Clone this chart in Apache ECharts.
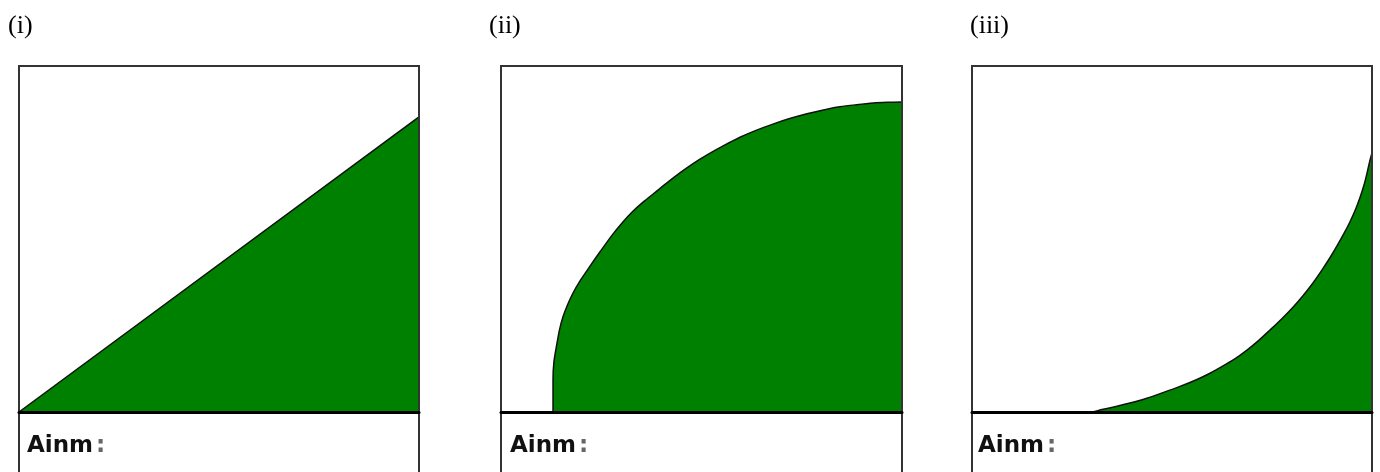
<!DOCTYPE html>
<html>
<head>
<meta charset="utf-8">
<script src="https://cdn.jsdelivr.net/npm/echarts@6/dist/echarts.min.js"></script>
<style>
html,body{margin:0;padding:0;background:#fff;}
#chart{width:1380px;height:472px;}
</style>
</head>
<body>
<div id="chart"></div>
<script>
// Panel titles and the answer-field label
const panelLabels = ['(i)', '(ii)', '(iii)'];
const fieldLabel = 'Ainm';
// Curves: [x (0-100 across box), y (0-100 from baseline to box top)]
const curveI = [[0, 0], [100, 85.3]];
const curveII = [
  [12.97, 0], [12.97, 9.2], [13.2, 14.5], [13.97, 19.9], [14.6, 23.8], [15.46, 27.5],
  [16.6, 31.0], [17.96, 34.4], [19.6, 37.7], [21.4, 40.8], [23.0, 43.5], [24.7, 46.3],
  [27.9, 51.4], [30.3, 54.8], [32.9, 58.0], [35.8, 61.0], [38.9, 63.9], [41.7, 66.5],
  [44.6, 69.1], [47.9, 71.8], [51.4, 74.3], [55.4, 76.9], [59.6, 79.4], [63.6, 81.4],
  [67.8, 83.2], [72.0, 84.8], [76.3, 86.2], [80.4, 87.3], [84.5, 88.2], [88.6, 88.8],
  [92.8, 89.3], [96.4, 89.5], [100, 89.6]
];
const curveIII = [
  [0, 0], [29.5, 0], [32.5, 0.7], [36, 1.6], [39.5, 2.6], [43.5, 3.9], [47.75, 5.6],
  [52, 7.4], [56.25, 9.4], [59.5, 11.2], [62, 12.8], [65.5, 15.2], [68.75, 17.9],
  [71.7, 20.7], [74.5, 23.7], [77.4, 26.9], [80.25, 30.3], [82.8, 33.7], [85.25, 37.3],
  [87.6, 41.2], [89.6, 44.8], [91.25, 48.0], [93.0, 51.6], [94.5, 55.0], [95.9, 58.6],
  [97, 62.0], [98.0, 65.6], [98.75, 69.0], [99.5, 72.8], [100, 74.9]
];

const curves = [curveI, curveII, curveIII];
const gridLefts = [19, 501, 972];
const gridWidths = [400, 401, 400];
const labelXs = [8, 489, 970];
const fieldXs = [27, 510, 978];

const chart = echarts.init(document.getElementById('chart'), null, {renderer: 'canvas'});

const grids = [], xAxes = [], yAxes = [], series = [], titles = [];
for (let i = 0; i < 3; i++) {
  grids.push({
    left: gridLefts[i], top: 66, width: gridWidths[i], height: 449.8,
    outerBoundsMode: 'none', containLabel: false,
    show: true, borderColor: '#333', borderWidth: 2,
    backgroundColor: 'transparent', z: 10
  });
  xAxes.push({
    type: 'value', gridIndex: i, min: 0, max: 100, z: 10,
    axisLine: {show: true, onZero: true, lineStyle: {color: '#000', width: 3}},
    axisTick: {show: false}, axisLabel: {show: false}, splitLine: {show: false}
  });
  yAxes.push({
    type: 'value', gridIndex: i, min: -30, max: 100,
    axisLine: {show: false}, axisTick: {show: false},
    axisLabel: {show: false}, splitLine: {show: false}
  });
  series.push({
    type: 'line', xAxisIndex: i, yAxisIndex: i, data: curves[i],
    showSymbol: false, symbol: 'none', silent: true,
    smooth: i === 0 ? false : 0.3,
    lineStyle: {color: '#111', width: 1.5},
    areaStyle: {color: '#008000', opacity: 1},
    z: 3
  });
  titles.push({
    text: panelLabels[i], left: labelXs[i], top: 13, padding: 0,
    textStyle: {fontFamily: 'Liberation Serif', fontSize: 26, fontWeight: 'normal', color: '#000'}
  });
  titles.push({
    text: '{a|' + fieldLabel + '}{b|:}', left: fieldXs[i], top: 435, padding: 0,
    textStyle: {
      rich: {
        a: {fontFamily: 'DejaVu Sans', fontSize: 23, fontWeight: 'bold', color: '#111'},
        b: {fontFamily: 'DejaVu Sans', fontSize: 23, fontWeight: 'bold', color: '#666', padding: [0, 0, 0, 3]}
      }
    }
  });
}

chart.setOption({
  animation: false,
  backgroundColor: '#fff',
  title: titles,
  grid: grids,
  xAxis: xAxes,
  yAxis: yAxes,
  series: series
});
</script>
</body>
</html>
